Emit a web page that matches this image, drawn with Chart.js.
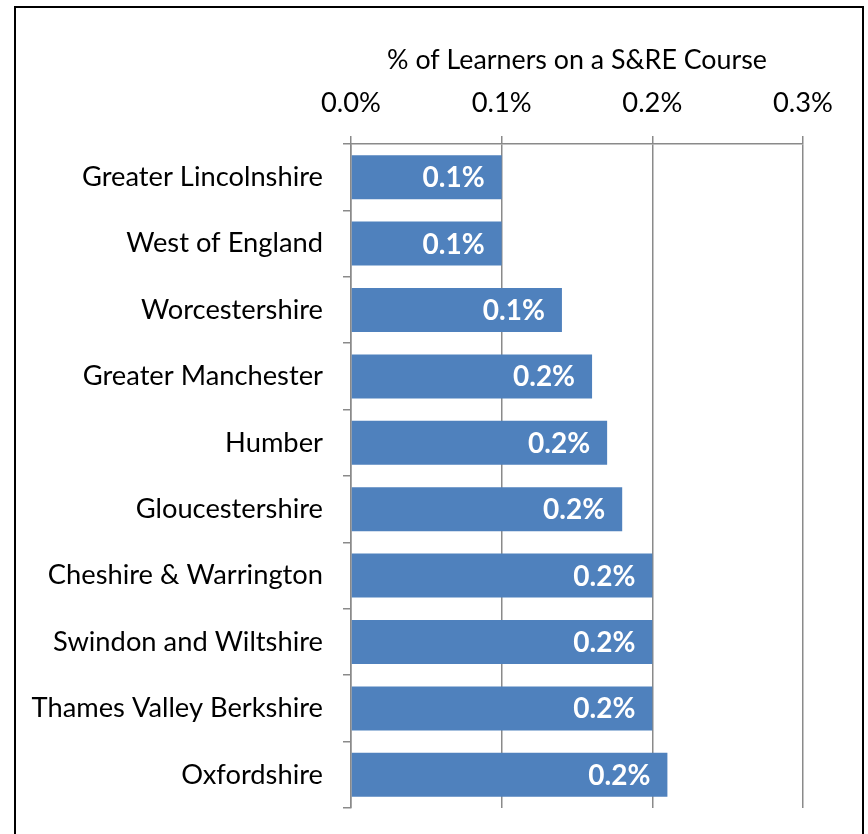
<!DOCTYPE html>
<html><head><meta charset="utf-8">
<script src="https://cdn.jsdelivr.net/npm/chart.js@4.4.0/dist/chart.umd.min.js"></script>
<style>
html,body{margin:0;padding:0;background:#fff;overflow:hidden;width:868px;height:834px;}
#frame{position:absolute;left:14px;top:6px;width:846px;height:900px;border:2px solid #000;}
#wrap{position:absolute;left:0;top:0;width:868px;height:834px;}
</style></head><body>
<div id="frame"></div>
<div id="wrap"><canvas id="c" width="868" height="834"></canvas></div>
<script>
const categories = ['Greater Lincolnshire','West of England','Worcestershire','Greater Manchester','Humber','Gloucestershire','Cheshire & Warrington','Swindon and Wiltshire','Thames Valley Berkshire','Oxfordshire'];
const values = [0.10, 0.10, 0.14, 0.16, 0.17, 0.18, 0.20, 0.20, 0.20, 0.21];
const tickMin = 0, tickMax = 0.3, tickStep = 0.1;
const axisTitle = '% of Learners on a S&RE Course';

const FONT = 'Lato';
const FS = 27.3;
const TFS = 26.8;
const LFS = 28;
const barColor = '#4F81BD';
const gridColor = '#8a8a8a';

const valueLabels = {
  id: 'valueLabels',
  afterDatasetsDraw(chart) {
    const ctx = chart.ctx;
    const meta = chart.getDatasetMeta(0);
    ctx.save();
    ctx.font = 'bold ' + LFS + 'px ' + FONT;
    ctx.fillStyle = '#ffffff';
    ctx.textAlign = 'right';
    ctx.textBaseline = 'middle';
    meta.data.forEach((bar, i) => {
      ctx.fillText(values[i].toFixed(1) + '%', bar.x - 17, bar.y + 1);
    });
    ctx.restore();
  }
};

function build() {
  Chart.defaults.font.family = FONT;
  Chart.defaults.color = '#000';
  new Chart(document.getElementById('c'), {
    type: 'bar',
    data: {
      labels: categories,
      datasets: [{ data: values, backgroundColor: barColor, barPercentage: 0.663, categoryPercentage: 1 }]
    },
    options: {
      indexAxis: 'y',
      responsive: false,
      devicePixelRatio: 1,
      animation: false,
      layout: { padding: { left: 0, right: 65, top: 0, bottom: 26 } },
      plugins: { legend: { display: false }, tooltip: { enabled: false } },
      scales: {
        x: {
          position: 'top',
          min: tickMin, max: tickMax,
          ticks: { stepSize: tickStep, padding: 16, color: '#000', font: { size: FS },
                   callback: v => Number(v).toFixed(1) + '%' },
          grid: { color: gridColor, lineWidth: 1.5, tickLength: 8, drawTicks: true },
          border: { display: true, color: gridColor, width: 1.5 },
          title: { display: true, text: axisTitle, color: '#000', font: { size: TFS }, padding: { top: 44, bottom: 0 } },
          afterFit: s => { s.height = 144; s.paddingLeft = 0; s.paddingRight = 0; }
        },
        y: {
          z: 1,
          ticks: { padding: 20, color: '#000', font: { size: FS } },
          grid: { drawOnChartArea: false, color: gridColor, lineWidth: 1.5, tickLength: 8, offset: true },
          border: { display: true, color: gridColor, width: 1.5 },
          afterFit: s => { s.width = 351; s.paddingTop = 0; s.paddingBottom = 0; }
        }
      }
    },
    plugins: [valueLabels]
  });
}
Promise.all([document.fonts.load(FS + 'px ' + FONT), document.fonts.load('bold ' + LFS + 'px ' + FONT)]).then(build, build);
</script>
</body></html>
